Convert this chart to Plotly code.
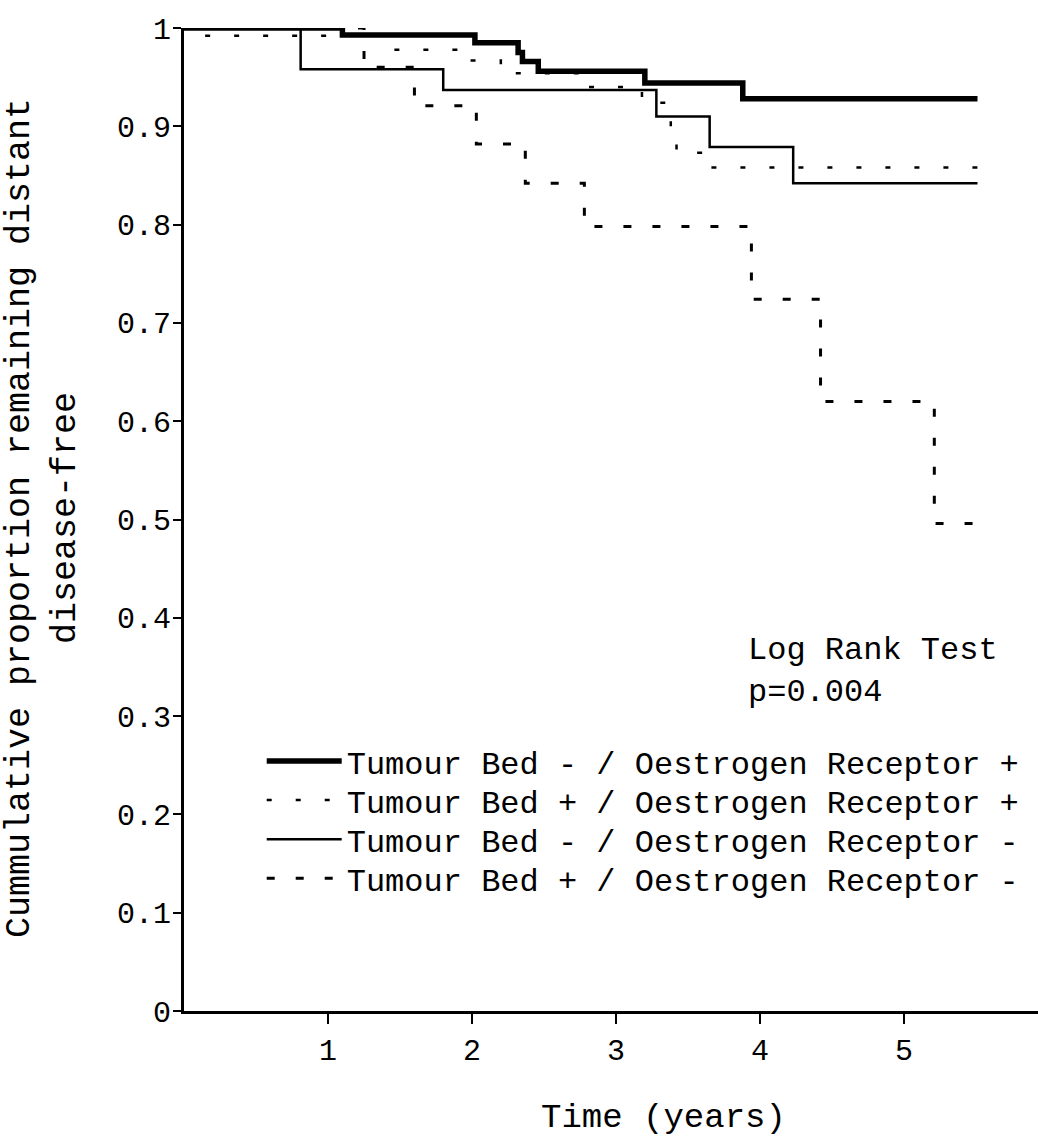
import plotly.graph_objects as go

# Kaplan-Meier step estimates (time in years, cumulative proportion distant disease-free)
t_bedneg_erpos = [0, 1.10, 2.02, 2.32, 2.35, 2.46, 3.20, 3.88, 5.51]
s_bedneg_erpos = [1.0, 0.993, 0.985, 0.975, 0.966, 0.956, 0.944, 0.928, 0.928]

t_bedpos_erpos = [0, 0.05, 1.43, 1.95, 2.20, 2.75, 3.18, 3.36, 3.38, 3.42, 3.65, 5.51]
s_bedpos_erpos = [1.0, 0.992, 0.978, 0.967, 0.954, 0.940, 0.924, 0.907, 0.891, 0.873, 0.858, 0.858]

t_bedneg_erneg = [0, 0.81, 1.80, 3.28, 3.65, 4.23, 5.51]
s_bedneg_erneg = [1.0, 0.958, 0.937, 0.910, 0.879, 0.842, 0.842]

t_bedpos_erneg = [0, 1.25, 1.60, 2.03, 2.37, 2.78, 3.94, 4.42, 5.21, 5.49]
s_bedpos_erneg = [1.0, 0.960, 0.921, 0.882, 0.842, 0.798, 0.724, 0.620, 0.496, 0.496]

group_names = [
    "Tumour Bed - / Oestrogen Receptor +",
    "Tumour Bed + / Oestrogen Receptor +",
    "Tumour Bed - / Oestrogen Receptor -",
    "Tumour Bed + / Oestrogen Receptor -",
]

x_ticks = [1, 2, 3, 4, 5]
y_ticks = [0, 0.1, 0.2, 0.3, 0.4, 0.5, 0.6, 0.7, 0.8, 0.9, 1]
y_tick_text = ["0", "0.1", "0.2", "0.3", "0.4", "0.5", "0.6", "0.7", "0.8", "0.9", "1"]

FONT = "Courier New, Liberation Mono, monospace"

series = [
    (t_bedneg_erpos, s_bedneg_erpos, dict(color="black", width=5.5)),
    (t_bedpos_erpos, s_bedpos_erpos, dict(color="black", width=2.5, dash="5px,24px")),
    (t_bedneg_erneg, s_bedneg_erneg, dict(color="black", width=2.5)),
    (t_bedpos_erneg, s_bedpos_erneg, dict(color="black", width=3, dash="8px,21px")),
]

# one single-entry legend per group, stacked with a fixed row pitch
legend_ids = ["legend", "legend2", "legend3", "legend4"]
legend_top = 0.282
row_pitch = 0.0397

fig = go.Figure()
for (t, s, line), name, lid in zip(series, group_names, legend_ids):
    fig.add_trace(go.Scatter(
        x=t, y=s, mode="lines", line=dict(shape="hv", **line), name=name, legend=lid,
    ))

legend_layout = {}
for i, lid in enumerate(legend_ids):
    legend_layout[lid] = dict(
        x=0.091, y=legend_top - i * row_pitch, xanchor="left", yanchor="top",
        font=dict(family=FONT, size=32, color="black"),
        itemwidth=75, bgcolor="rgba(0,0,0,0)",
    )

fig.update_layout(
    width=1038, height=1139,
    margin=dict(l=184, r=0, t=28, b=128),
    paper_bgcolor="white", plot_bgcolor="white",
    font=dict(family=FONT, color="black", size=30),
    showlegend=True,
    xaxis=dict(
        range=[0, 5.93], showgrid=False, zeroline=False,
        showline=True, linecolor="black", linewidth=3,
        tickmode="array", tickvals=x_ticks, ticktext=[str(v) for v in x_ticks],
        ticks="outside", ticklen=10, tickwidth=2, tickcolor="black",
        ticklabelstandoff=0, tickfont=dict(family=FONT, size=30),
    ),
    yaxis=dict(
        range=[0, 1], showgrid=False, zeroline=False,
        showline=True, linecolor="black", linewidth=3,
        tickmode="array", tickvals=y_ticks, ticktext=y_tick_text,
        ticks="outside", ticklen=8, tickwidth=2, tickcolor="black",
        ticklabelstandoff=-4, tickfont=dict(family=FONT, size=30),
    ),
    annotations=[
        dict(text="Log Rank Test<br>p=0.004", x=0.658, y=0.388, xref="paper", yref="paper",
             xanchor="left", yanchor="top", align="left", showarrow=False,
             font=dict(family=FONT, size=32)),
        dict(text="Time (years)", x=0.562, y=-0.109, xref="paper", yref="paper",
             xanchor="center", yanchor="middle", showarrow=False,
             font=dict(family=FONT, size=34)),
        dict(text="Cummulative proportion remaining distant<br>disease-free",
             x=-0.165, y=0.5015, xref="paper", yref="paper", textangle=-90,
             xanchor="center", yanchor="middle", align="center", showarrow=False,
             font=dict(family=FONT, size=35)),
    ],
    **legend_layout,
)

fig.write_html("out.html")
